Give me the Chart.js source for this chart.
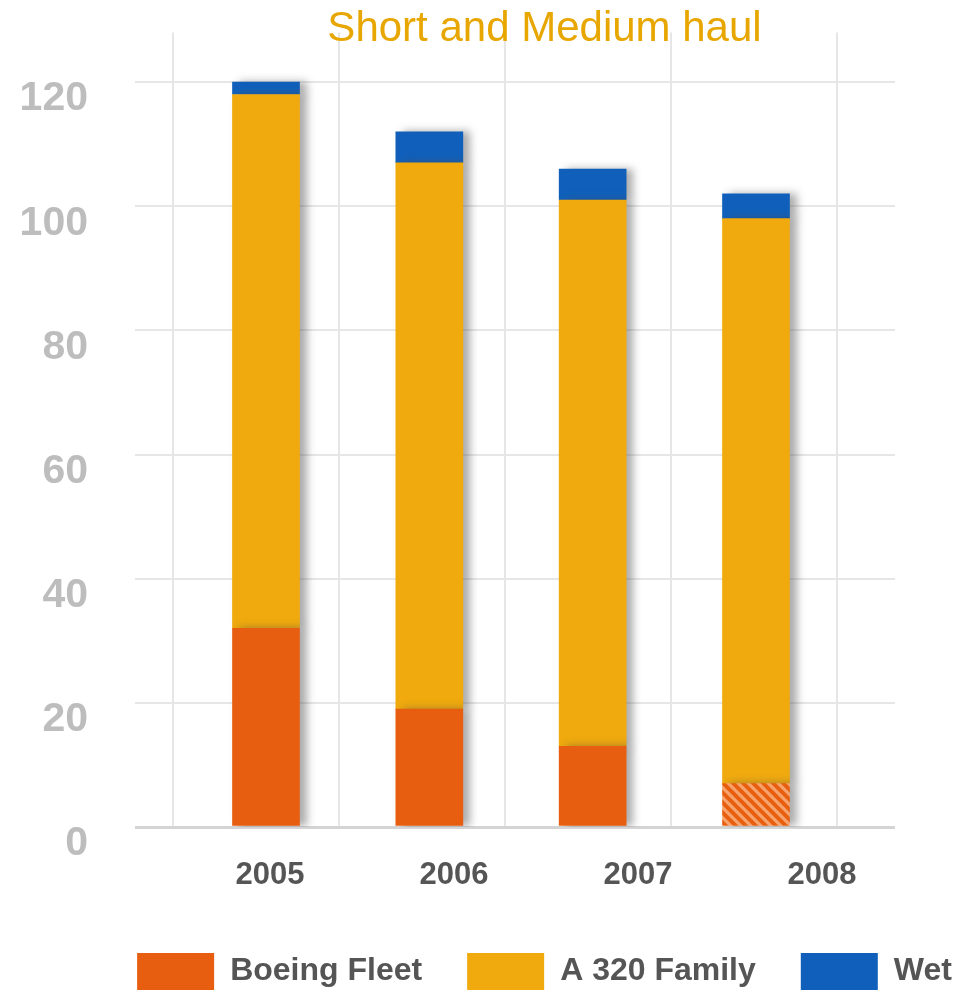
<!DOCTYPE html>
<html>
<head>
<meta charset="utf-8">
<script src="https://cdn.jsdelivr.net/npm/chart.js@4.4.1/dist/chart.umd.min.js"></script>
<style>
html,body{margin:0;padding:0;background:#fff;overflow:hidden;}
#wrap{width:1070px;height:1000px;}
</style>
</head>
<body>
<div id="wrap"><canvas id="myChart" width="1070" height="1000"></canvas></div>
<script>
// data
const years = ['2005', '2006', '2007', '2008'];
const boeing = [32, 19, 13, 7];
const a320 = [86, 88, 88, 91];
const wet = [2, 5, 5, 4];
const yTicks = [0, 20, 40, 60, 80, 100, 120];

const fam = "'Liberation Sans', Arial, sans-serif";
const ctx = document.getElementById('myChart');

// hatched fill for the 2008 boeing part
function hatch() {
  const c = document.createElement('canvas');
  c.width = 10; c.height = 10;
  const g = c.getContext('2d');
  g.fillStyle = '#f6a36e';
  g.fillRect(0, 0, 10, 10);
  g.strokeStyle = '#e8600f';
  g.lineWidth = 4;
  g.beginPath();
  g.moveTo(-5, -5); g.lineTo(15, 15);
  g.moveTo(-5, 5); g.lineTo(5, 15);
  g.moveTo(5, -5); g.lineTo(15, 5);
  g.stroke();
  return ctx.getContext('2d').createPattern(c, 'repeat');
}
const stripes = hatch();

const barShadow = {
  id: 'barShadow',
  beforeDatasetsDraw(chart) {
    const c = chart.ctx;
    c.save();
    c.shadowColor = 'rgba(70,70,70,0.45)';
    c.shadowOffsetX = 7;
    c.shadowOffsetY = 0;
    c.shadowBlur = 8;
  },
  afterDatasetsDraw(chart) {
    chart.ctx.restore();
  }
};

const pts = arr => arr.map((v, i) => ({x: i, y: v}));

new Chart(ctx, {
  type: 'bar',
  data: {
    datasets: [
      {
        label: 'Boeing Fleet',
        data: pts(boeing),
        backgroundColor: c => (c.dataIndex === 3 ? stripes : '#e85e10'),
        barThickness: 67
      },
      {
        label: 'A 320 Family',
        data: pts(a320),
        backgroundColor: '#f0aa0e',
        barThickness: 67
      },
      {
        label: 'Wet',
        data: pts(wet),
        backgroundColor: '#1060bb',
        barThickness: 67
      }
    ]
  },
  plugins: [barShadow],
  options: {
    responsive: false,
    animation: false,
    layout: { padding: { left: 19, right: 0, top: 0, bottom: 0 } },
    plugins: {
      title: {
        display: true,
        text: 'Short and Medium haul',
        color: '#e8a600',
        font: { family: fam, size: 42, weight: 'normal' },
        padding: { top: 4, bottom: -22 }
      },
      legend: {
        position: 'bottom',
        labels: {
          boxWidth: 77,
          boxHeight: 37,
          padding: 45,
          color: '#555555',
          font: { family: fam, size: 32, weight: 'bold' }
        }
      },
      tooltip: { enabled: false }
    },
    scales: {
      x: {
        type: 'linear',
        min: -0.802,
        max: 3.851,
        offset: false,
        stacked: true,
        display: false
      },
      xg: {
        type: 'linear',
        position: 'bottom',
        min: -0.229,
        max: 4.349,
        offset: false,
        afterBuildTicks: s => { s.ticks = [0, 1, 2, 3, 4].map(v => ({value: v})); },
        grid: { color: '#e6e6e6', lineWidth: 2, drawTicks: false, offset: false },
        ticks: { display: false },
        border: { display: false }
      },
      xl: {
        type: 'linear',
        position: 'bottom',
        min: -0.734,
        max: 3.397,
        offset: false,
        afterBuildTicks: s => { s.ticks = years.map((y, i) => ({value: i})); },
        afterFit: s => { s.height = 81; s.paddingLeft = 0; s.paddingRight = 0; },
        grid: { display: false, offset: false },
        border: { display: false },
        ticks: {
          callback: v => years[v],
          color: '#555555',
          padding: 22,
          maxRotation: 0,
          font: { family: fam, size: 31, weight: 'bold' }
        }
      },
      y: {
        stacked: true,
        min: 0,
        max: 128,
        afterBuildTicks: s => { s.ticks = yTicks.map(v => ({value: v})); },
        afterFit: s => { s.width = 116; s.paddingTop = 0; s.paddingBottom = 0; },
        grid: {
          color: c => (c.tick && c.tick.value === 0 ? '#d4d4d4' : '#e6e6e6'),
          lineWidth: c => (c.tick && c.tick.value === 0 ? 3 : 2),
          drawTicks: false
        },
        border: { display: false },
        ticks: {
          color: '#bdbdbd',
          padding: 47,
          labelOffset: 17,
          font: { family: fam, size: 41, weight: 'bold' }
        }
      },
      yr: {
        type: 'linear',
        position: 'right',
        afterFit: s => { s.width = 175; s.paddingTop = 0; s.paddingBottom = 0; },
        grid: { display: false },
        border: { display: false },
        ticks: { display: false }
      }
    }
  }
});
</script>
</body>
</html>
